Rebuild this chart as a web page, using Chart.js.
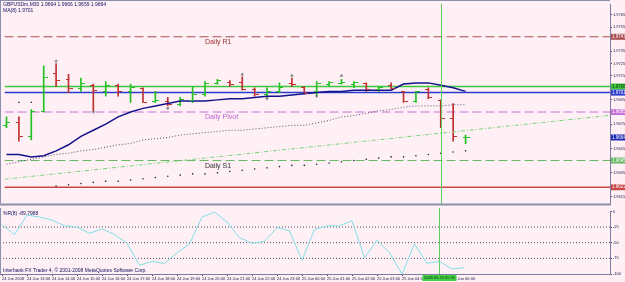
<!DOCTYPE html>
<html>
<head>
<meta charset="utf-8">
<script src="https://cdn.jsdelivr.net/npm/chart.js@4.4.1/dist/chart.umd.min.js"></script>
<style>
body{margin:0;background:#fff0f5;width:625px;height:282px;overflow:hidden;position:relative;font-family:"Liberation Sans",Arial,sans-serif}
#price{position:absolute;left:0;top:0}
#wpr{position:absolute;left:0;top:208px}
.t{position:absolute;font-size:5px;line-height:5px;color:#101060;white-space:nowrap}
</style>
</head>
<body>
<canvas id="price" width="625" height="208"></canvas>
<canvas id="wpr" width="625" height="74"></canvas>
<div class="t" style="left:3px;top:2px">GBPUSDm,M30 1.9664 1.9666 1.9659 1.9664</div>
<div class="t" style="left:3px;top:8px">MA(8) 1.9701</div>
<div class="t" style="left:3px;top:211px">%R(8) -89.7988</div>
<div class="t" style="left:3px;top:268px">Interbank FX Trader 4, © 2001-2008 MetaQuotes Software Corp.</div>
<script>
// M30 bars, index 0 = first bar on screen
let opens  = [1.9674,1.9677,1.9665,1.9686,1.9717,1.9712,1.9705,1.9707,1.9702,1.9707,1.9702,1.9705,1.9694,1.9694,1.9692,1.9695,1.9700,1.9709,1.9710,1.9710,1.9704,1.9700,1.9702,1.9709,1.9706,1.9702,1.9708,1.9709,1.9708,1.9709,1.9704,1.9707,1.9702,1.9694,1.9704,1.9695,1.9680,1.9664]
let highs  = [1.9681,1.9681,1.9687,1.9723,1.9725,1.9716,1.9713,1.9708,1.9710,1.9708,1.9708,1.9705,1.9702,1.9697,1.9697,1.9706,1.9710,1.9712,1.9711,1.9714,1.9705,1.9705,1.9709,1.9713,1.9706,1.9710,1.9710,1.9712,1.9710,1.9709,1.9706,1.9709,1.9702,1.9702,1.9705,1.9695,1.9692,1.9666]
let lows   = [1.9672,1.9661,1.9662,1.9685,1.9706,1.9701,1.9702,1.9686,1.9698,1.9698,1.9693,1.9693,1.9693,1.9690,1.9690,1.9693,1.9698,1.9708,1.9706,1.9703,1.9698,1.9696,1.9701,1.9706,1.9700,1.9698,1.9706,1.9708,1.9705,1.9702,1.9702,1.9704,1.9693,1.9693,1.9696,1.9672,1.9661,1.9659]
let closes = [1.9677,1.9665,1.9686,1.9714,1.9711,1.9705,1.9709,1.9703,1.9707,1.9702,1.9706,1.9693,1.9695,1.9692,1.9696,1.9700,1.9709,1.9711,1.9708,1.9704,1.9700,1.9702,1.9706,1.9708,1.9701,1.9709,1.9710,1.9710,1.9710,1.9704,1.9706,1.9705,1.9694,1.9702,1.9697,1.9680,1.9665,1.9664]

let maFast = [1.9650,1.9650,1.9648,1.9649,1.9653,1.9658,1.9665,1.9670,1.9675,1.9681,1.9685,1.9688,1.9690,1.9692,1.9694,1.9694,1.9694,1.9695,1.9696,1.9696,1.9697,1.9698,1.9698,1.9699,1.9700,1.9701,1.9702,1.9702,1.9703,1.9703,1.9703,1.9703,1.9708,1.9709,1.9709,1.9707,1.9705,1.9702]
let maSlow = [1.9642,1.9644,1.9646,1.9648,1.9650,1.9651,1.9653,1.9654,1.9656,1.9658,1.9659,1.9662,1.9663,1.9664,1.9666,1.9667,1.9668,1.9669,1.9670,1.9670,1.9671,1.9672,1.9673,1.9674,1.9674,1.9676,1.9678,1.9681,1.9682,1.9684,1.9686,1.9687,1.9689,1.9690,1.9690,1.9690,1.9691,1.9691]
let sar = [null,1.9693,1.9693,null,1.9624,1.9625,1.9626,1.9627,1.9628,1.9628,1.9629,1.9630,1.9631,1.9632,1.9633,1.9634,1.9634,1.9635,1.9636,1.9637,1.9638,1.9639,1.9640,1.9641,1.9641,1.9642,1.9643,1.9644,1.9645,1.9646,1.9647,1.9648,1.9648,1.9649,1.9650,1.9651,1.9652,1.9653]

let fractalUpBars = [4,19,23,27]
let fractalUpPrices = [1.9727,1.9716,1.9715,1.9715]
let fractalDownBars = [7,13,21,25]
let fractalDownPrices = [1.9685,1.9688,1.9696,1.9698]

// trend line anchors (bar, price)
let trendBars = [0,37]
let trendPrices = [1.96298,1.96697]

// horizontal levels
let levelNames  = ["Daily R1","","","Daily Pivot","Daily S1",""]
let levelPrices = [1.9747,1.9706,1.9701,1.9685,1.9645,1.9623]
let levelColors = ["#a85050","#3cc83c","#2a3ccc","#c870d8","#66b866","#c84848"]
let levelDashes = [[9,4],[],[],[9,4],[9,4],[]]
let levelTextColors = ["#a03030","","","#c060d0","#303030",""]
let bidPrice = 1.9664

let priceTicks = [1.9615,1.9635,1.9655,1.9675,1.9695,1.9715,1.9725,1.9735,1.9755,1.9765]

// Williams %R
let wpr = [-21.5,-37,-6,-9,-14,-23,-25,-35,-28,-37,-51,-86,-80,-83,-66,-52,-9,-1,-17,-42,-51,-48,-26,-31,-78,-29,-23,-23,-15,-74,-46,-66,-100,-52,-83,-80,-92,-89.8]
let wprLevels = [-25,-50,-75]
let wprTicks = [0,-25,-50,-75,-100]

let timeBars = [0,2,4,6,8,10,12,14,16,18,20,22,24,26,28,30,32,34,36]
let timeLabels = ["24 Jun 2008","24 Jun 13:00","24 Jun 14:00","24 Jun 15:00","24 Jun 16:00","24 Jun 17:00","24 Jun 18:00","24 Jun 19:00","24 Jun 20:00","24 Jun 21:00","24 Jun 22:00","24 Jun 23:00","25 Jun 00:00","25 Jun 01:00","25 Jun 02:00","25 Jun 03:00","25 Jun 04:00","25 Jun 05:00","25 Jun 06:00"]
let vLineBar = 35
let vLineText = "2008.06.25 05:30"

const xMin = -0.16, xMax = 48.64
const upColor = "#22c022", downColor = "#c03030"
const axisFont = {family:"Liberation Sans", size:4}

// extend trend line to the right edge
let slope = (trendPrices[1]-trendPrices[0])/(trendBars[1]-trendBars[0])
let trendData = [
{x:xMin, y:trendPrices[0]+slope*(xMin-trendBars[0])},
{x:xMax, y:trendPrices[0]+slope*(xMax-trendBars[0])}
]

let barData = opens.map((o,i)=>({x:i, y:[lows[i], highs[i]]}))
let barColors = opens.map((o,i)=> closes[i]>=o ? upColor : downColor)

let levelSets = levelPrices.map((p,k)=>({
type:"line",
data:[{x:xMin,y:p},{x:xMax,y:p}],
borderColor:levelColors[k],
borderWidth:k==1||k==2||k==5 ? 1.5 : 1,
borderDash:levelDashes[k],
pointRadius:0,
order:20
}))

// open/close ticks, frame, labels
const mtPlugin = {
id:"mt",
afterDatasetsDraw(chart){
let ctx = chart.ctx
let x = chart.scales.x, y = chart.scales.y
let a = chart.chartArea
ctx.save()
ctx.lineWidth = 1
opens.forEach((o,i)=>{
let px = Math.round(x.getPixelForValue(i))+0.5
let yo = Math.round(y.getPixelForValue(o))+0.5
let yc = Math.round(y.getPixelForValue(closes[i]))+0.5
ctx.strokeStyle = barColors[i]
ctx.beginPath()
ctx.moveTo(px-3.5,yo); ctx.lineTo(px,yo)
ctx.moveTo(px,yc); ctx.lineTo(px+3.5,yc)
ctx.stroke()
})
// level captions
ctx.font = "7px Liberation Sans"
ctx.textBaseline = "top"
levelNames.forEach((n,k)=>{
if(!n) return
ctx.fillStyle = levelTextColors[k]
ctx.fillText(n, x.getPixelForValue(16), y.getPixelForValue(levelPrices[k])+2)
})
// vertical line
let vx = Math.round(x.getPixelForValue(vLineBar))+0.5
ctx.strokeStyle = "#5ad25a"
ctx.beginPath(); ctx.moveTo(vx,a.top-1); ctx.lineTo(vx,a.bottom); ctx.stroke()
// price labels on the axis
ctx.font = "4.5px Liberation Sans"
ctx.textBaseline = "middle"
let boxes = levelPrices.map((p,k)=>[p, levelColors[k]])
boxes.push([bidPrice,"#1a2ab0"])
boxes.forEach(b=>{
let py = y.getPixelForValue(b[0])
ctx.fillStyle = b[1]
ctx.fillRect(a.right+1, py-3, 14, 6)
ctx.fillStyle = b[1]=="#3cc83c" ? "#103010" : "#ffffff"
ctx.fillText(b[0].toFixed(4), a.right+2, py)
})
// frame and separator
ctx.strokeStyle = "#8a8fb0"
ctx.beginPath(); ctx.moveTo(0.5,0); ctx.lineTo(0.5,a.bottom); ctx.moveTo(0,0.5); ctx.lineTo(a.right,0.5); ctx.stroke()
ctx.fillStyle = "#8890a8"
ctx.fillRect(0, a.bottom, a.right+1, 2)
ctx.restore()
}
}

new Chart(document.getElementById("price"),{
type:"bar",
data:{datasets:[
{type:"bar", data:barData, backgroundColor:barColors, barThickness:1, order:10},
{type:"line", data:maFast.map((v,i)=>({x:i,y:v})), borderColor:"#12128a", borderWidth:1.5, pointRadius:0, order:2},
{type:"line", data:maSlow.map((v,i)=>({x:i,y:v})), borderColor:"#505070", borderWidth:1, borderDash:[1,2], pointRadius:0, order:3},
{type:"line", data:trendData, borderColor:"#7ad27a", borderWidth:1, borderDash:[4,2,1,2], pointRadius:0, order:4},
{type:"scatter", data:sar.map((v,i)=>({x:i,y:v})), backgroundColor:"#202030", pointRadius:0.8, borderWidth:0, order:1},
{type:"scatter", data:fractalUpBars.map((b,k)=>({x:b,y:fractalUpPrices[k]})), pointStyle:"triangle", pointRadius:1.6, backgroundColor:"#808080", borderColor:"#808080", borderWidth:0.5, order:1},
{type:"scatter", data:fractalDownBars.map((b,k)=>({x:b,y:fractalDownPrices[k]})), pointStyle:"triangle", rotation:180, pointRadius:1.6, backgroundColor:"#808080", borderColor:"#808080", borderWidth:0.5, order:1},
...levelSets
]},
options:{
responsive:false,
animation:false,
layout:{padding:{top:1,bottom:2,left:0,right:0}},
plugins:{legend:{display:false},tooltip:{enabled:false}},
scales:{
x:{type:"linear", min:xMin, max:xMax, offset:false, display:false},
y:{position:"right", min:1.96096, max:1.97736,
afterFit:s=>{s.width=15},
afterBuildTicks:s=>{s.ticks=priceTicks.map(v=>({value:v}))},
ticks:{font:axisFont, color:"#202050", padding:1, callback:v=>v.toFixed(4)},
grid:{drawOnChartArea:false, drawTicks:true, tickLength:2, color:"#404060"},
border:{display:true, color:"#7a7fa0"}
}
}
},
plugins:[mtPlugin]
})

const wprPlugin = {
id:"wprmt",
afterDraw(chart){
let ctx = chart.ctx
let x = chart.scales.x
let a = chart.chartArea
ctx.save()
let vx = Math.round(x.getPixelForValue(vLineBar))+0.5
ctx.strokeStyle = "#5ad25a"
ctx.beginPath(); ctx.moveTo(vx,0); ctx.lineTo(vx,a.bottom); ctx.stroke()
ctx.strokeStyle = "#8a8fb0"
ctx.beginPath(); ctx.moveTo(0.5,0); ctx.lineTo(0.5,a.bottom); ctx.stroke()
ctx.fillStyle = "#44d044"
ctx.fillRect(vx-17, a.bottom+1, 34, 6)
ctx.fillStyle = "#103010"
ctx.font = "4px Liberation Sans"
ctx.textBaseline = "middle"
ctx.textAlign = "center"
ctx.fillText(vLineText, vx, a.bottom+4)
ctx.restore()
}
}

new Chart(document.getElementById("wpr"),{
type:"line",
data:{datasets:[
{data:wpr.map((v,i)=>({x:i,y:v})), borderColor:"#7fdfe6", borderWidth:1, pointRadius:0, order:1},
...wprLevels.map(l=>({data:[{x:xMin,y:l},{x:xMax,y:l}], borderColor:"#505060", borderWidth:1, borderDash:[1,2], pointRadius:0, order:5}))
]},
options:{
responsive:false,
animation:false,
layout:{padding:{top:1,bottom:0,left:0,right:0}},
plugins:{legend:{display:false},tooltip:{enabled:false}},
scales:{
x:{type:"linear", min:xMin, max:xMax, offset:false,
afterFit:s=>{s.height=8},
afterBuildTicks:s=>{s.ticks=timeBars.map(v=>({value:v}))},
ticks:{font:axisFont, color:"#202050", align:"start", padding:0, maxRotation:0, autoSkip:false,
callback:(v,i)=>timeLabels[i]},
grid:{drawOnChartArea:false, drawTicks:true, tickLength:2, color:"#404060"},
border:{display:true, color:"#7a7fa0"}
},
y:{position:"right", min:-100, max:0,
afterFit:s=>{s.width=15},
afterBuildTicks:s=>{s.ticks=wprTicks.map(v=>({value:v}))},
ticks:{font:axisFont, color:"#202050", padding:1},
grid:{drawOnChartArea:false, drawTicks:true, tickLength:2, color:"#404060"},
border:{display:true, color:"#7a7fa0"}
}
}
},
plugins:[wprPlugin]
})
</script>
</body>
</html>
